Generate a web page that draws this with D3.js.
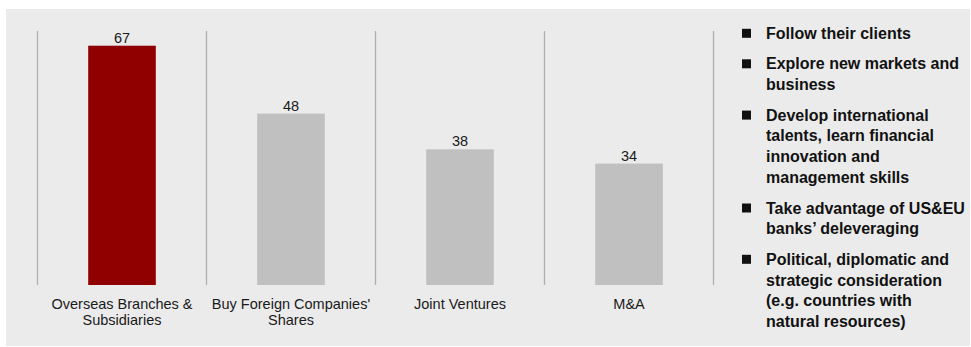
<!DOCTYPE html>
<html>
<head>
<meta charset="utf-8">
<script src="https://cdn.jsdelivr.net/npm/d3@7"></script>
<style>
  html, body { margin: 0; padding: 0; background: #fff; }
  svg { display: block; font-family: 'Liberation Sans', Arial, sans-serif; }
</style>
</head>
<body>
<div id="chart"></div>
<script>
const categories = ['Overseas Branches & Subsidiaries', "Buy Foreign Companies' Shares", 'Joint Ventures', 'M&A'];
const tickLabels = [['Overseas Branches &', 'Subsidiaries'], ["Buy Foreign Companies'", 'Shares'], ['Joint Ventures'], ['M&A']];
const values = [67, 48, 38, 34];
const highlight = [true, false, false, false];

const reasons = [
	['Follow their clients'],
	['Explore new markets and', 'business'],
	['Develop international', 'talents, learn financial', 'innovation and', 'management skills'],
	['Take advantage of US&EU', 'banks\u2019 deleveraging'],
	['Political, diplomatic and', 'strategic consideration', '(e.g. countries with', 'natural resources)'],
];

const width = 971;
const height = 347;

const svg = d3.select('#chart').append('svg')
	.attr('width', width)
	.attr('height', height);

// panel background
svg.append('rect')
	.attr('x', 6)
	.attr('y', 9)
	.attr('width', 964)
	.attr('height', 337)
	.attr('fill', '#ebebeb');

const base = 285;

const xScale = d3.scaleBand()
	.domain(categories)
	.range([37.5, 713.5])
	.paddingInner(0.6)
	.paddingOuter(0.3);

const yScale = d3.scaleLinear()
	.domain([0, 70])
	.range([base, 35]);

// divider lines between categories
const step = xScale.step();
const edges = d3.range(categories.length + 1).map((i) => 37.5 + i * step);

svg.append('g')
	.selectAll('line')
	.data(edges)
	.enter()
	.append('line')
	.attr('x1', (d) => d)
	.attr('x2', (d) => d)
	.attr('y1', 31)
	.attr('y2', base)
	.attr('stroke', '#b0b0b0')
	.attr('stroke-width', 1.3);

const plot = svg.append('g');

plot.selectAll('rect.bar')
	.data(values)
	.enter()
	.append('rect')
	.attr('class', 'bar')
	.attr('x', (d, i) => xScale(categories[i]))
	.attr('y', (d) => yScale(d))
	.attr('width', xScale.bandwidth())
	.attr('height', (d) => base - yScale(d))
	.attr('fill', (d, i) => (highlight[i] ? '#910000' : '#c0c0c0'));

plot.selectAll('text.value')
	.data(values)
	.enter()
	.append('text')
	.attr('class', 'value')
	.attr('x', (d, i) => xScale(categories[i]) + xScale.bandwidth() / 2)
	.attr('y', (d) => yScale(d) - 3)
	.attr('text-anchor', 'middle')
	.attr('font-size', '14.5px')
	.attr('fill', '#1a1a1a')
	.text((d) => d);

// category labels
const labels = plot.selectAll('text.cat')
	.data(categories)
	.enter()
	.append('text')
	.attr('class', 'cat')
	.attr('text-anchor', 'middle')
	.attr('font-size', '14.5px')
	.attr('fill', '#1a1a1a')
	.attr('transform', (d) => `translate(${xScale(d) + xScale.bandwidth() / 2},${base + 23.5})`);

labels.selectAll('tspan')
	.data((d, i) => tickLabels[i])
	.enter()
	.append('tspan')
	.attr('x', 0)
	.attr('y', (d, j) => j * 16.5)
	.text((d) => d);

// reasons list on the right
const lineH = 20.8;
const itemGap = 30.5;
const legend = svg.append('g').attr('transform', 'translate(742,0)');
let y = 38.8;
reasons.forEach((lines) => {
	legend.append('rect')
		.attr('x', 0)
		.attr('y', y - 10)
		.attr('width', 9)
		.attr('height', 9)
		.attr('fill', '#111');
	const t = legend.append('text')
		.attr('font-size', '16px')
		.attr('font-weight', 'bold')
		.attr('fill', '#111');
	lines.forEach((line, j) => {
		t.append('tspan')
			.attr('x', 24)
			.attr('y', y + j * lineH)
			.text(line);
	});
	y += (lines.length - 1) * lineH + itemGap;
});
</script>
</body>
</html>
